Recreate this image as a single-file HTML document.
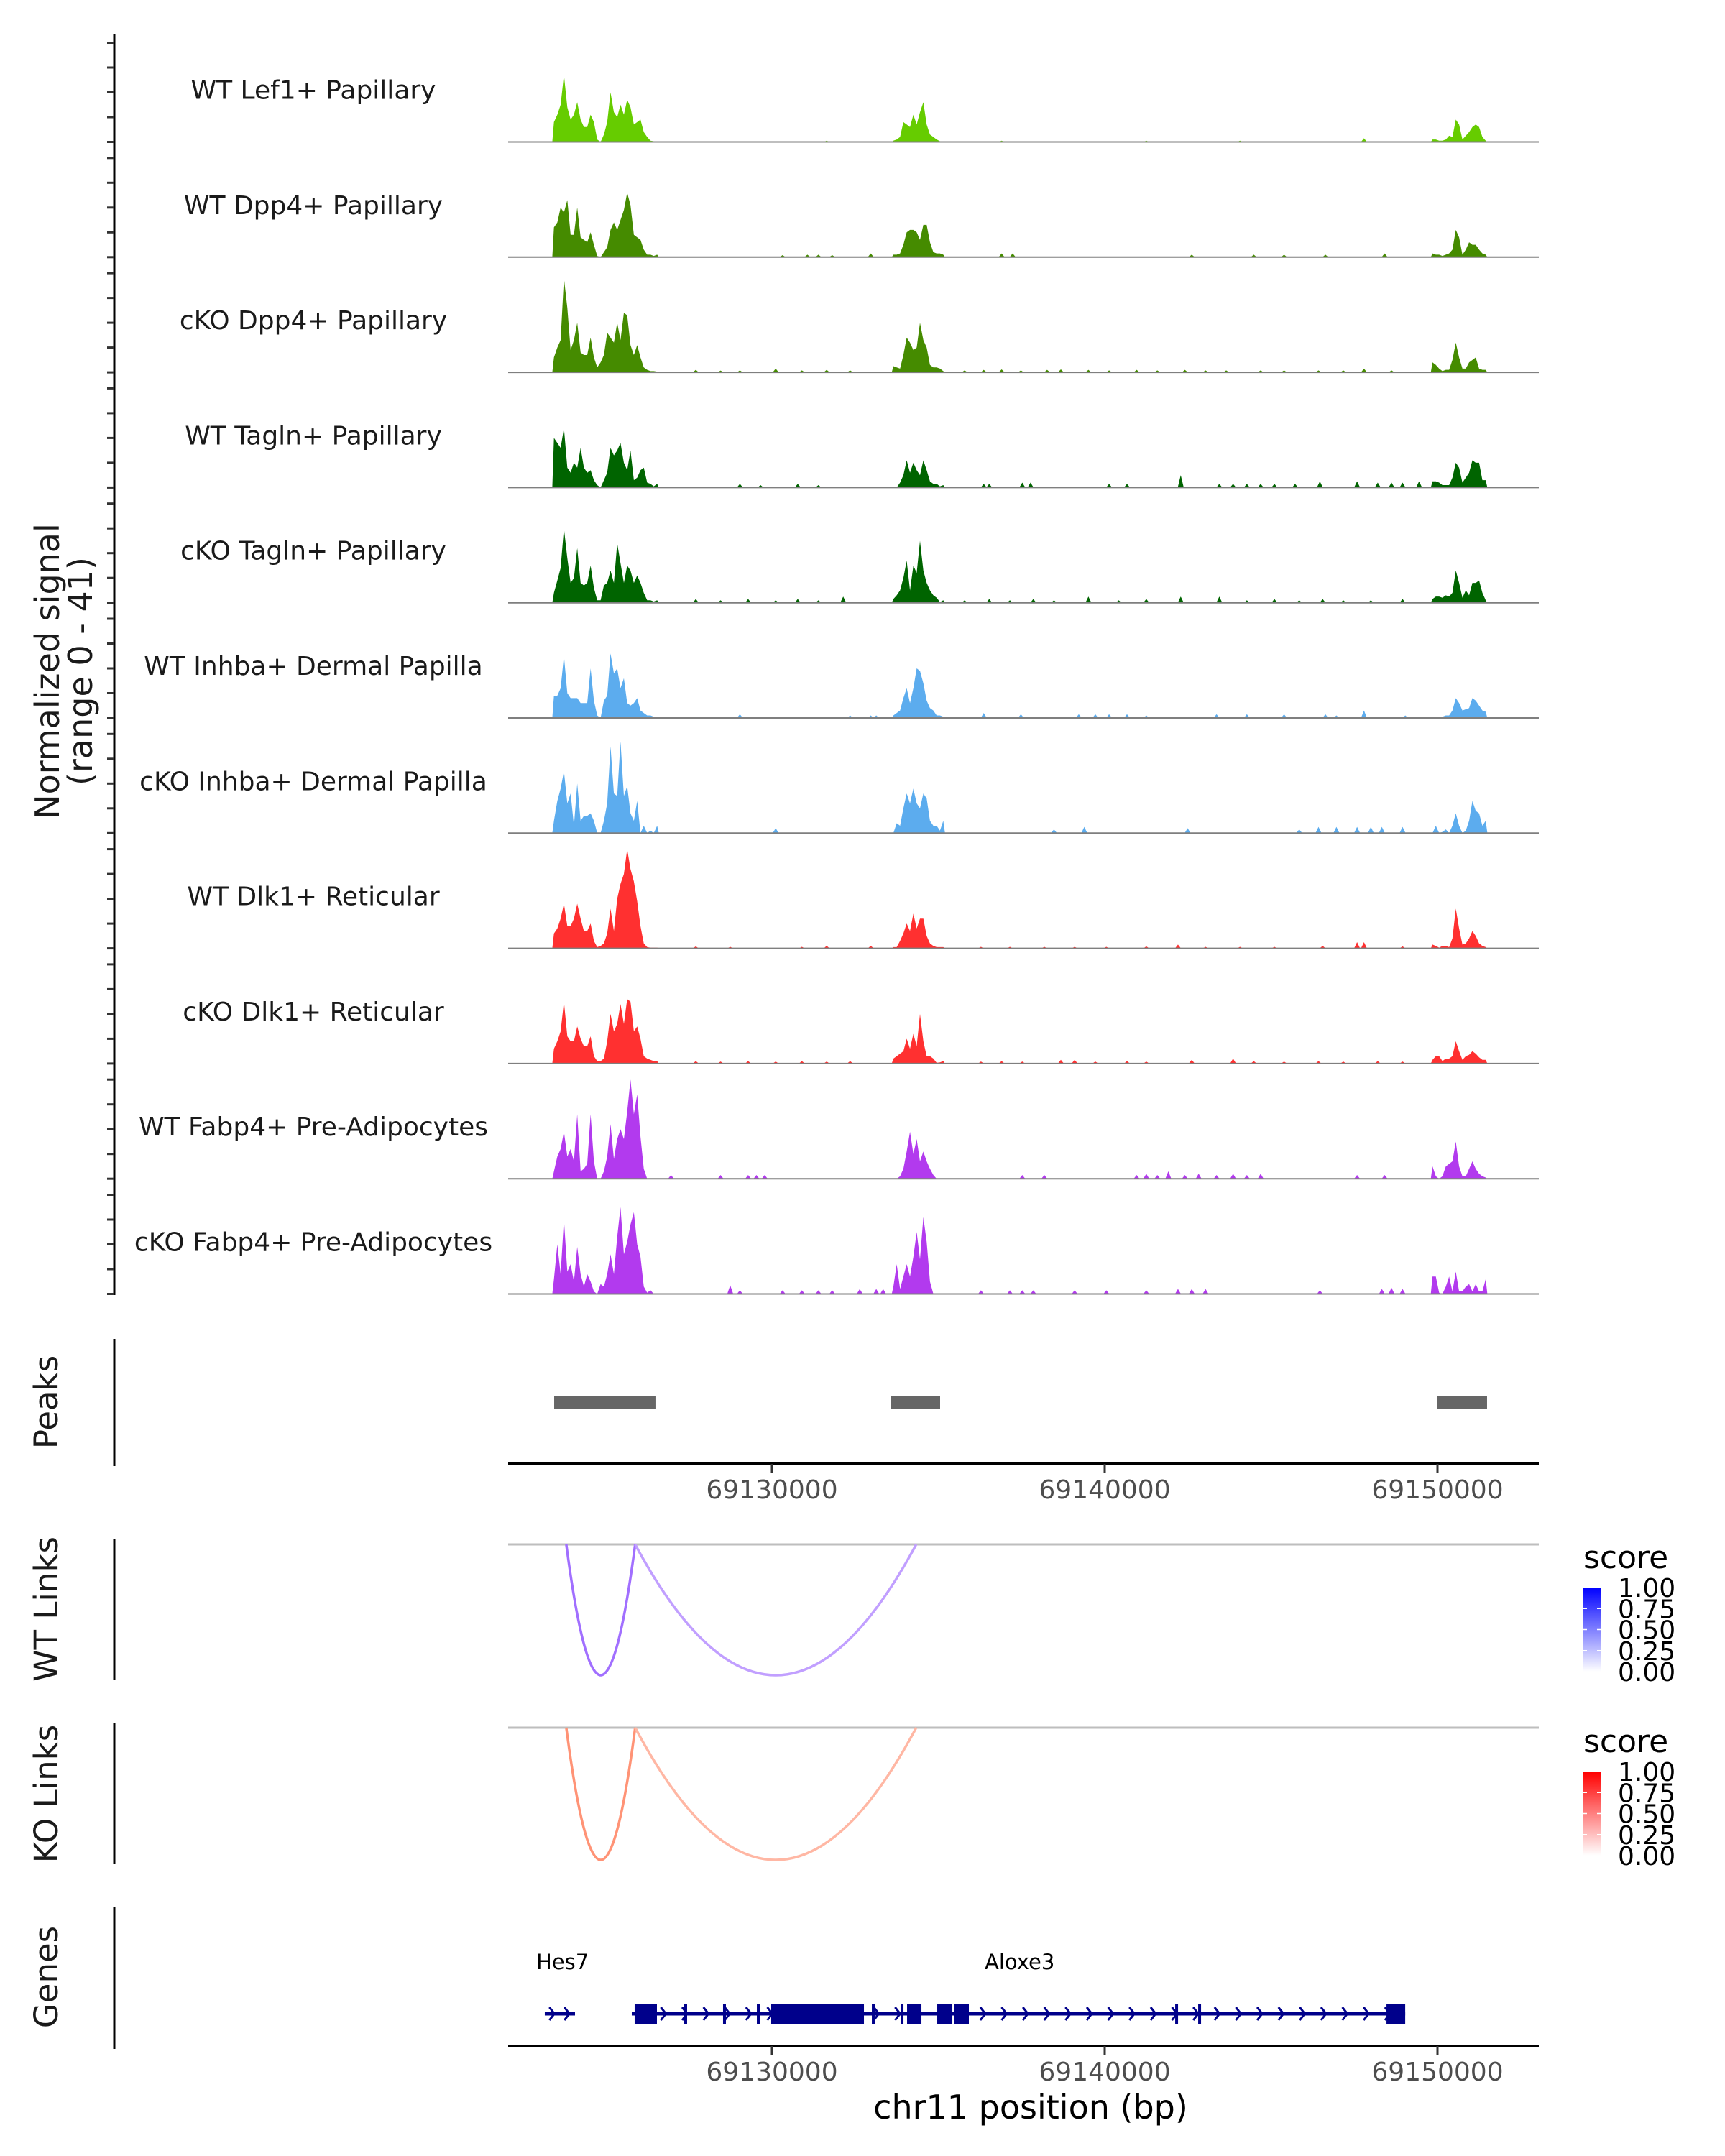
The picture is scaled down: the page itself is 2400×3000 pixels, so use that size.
<!DOCTYPE html>
<html><head><meta charset="utf-8"><style>
html,body{margin:0;padding:0;background:#fff;}
svg{display:block;font-family:"DejaVu Sans","Liberation Sans",sans-serif;}
</style></head><body>
<svg id="fig" xmlns="http://www.w3.org/2000/svg" width="2400" height="3000" viewBox="0 0 2400 3000">
<rect width="2400" height="3000" fill="#fff"/>
<text transform="translate(82,934) rotate(-90)" text-anchor="middle" font-size="46" fill="#1a1a1a">Normalized signal</text>
<text transform="translate(128,934) rotate(-90)" text-anchor="middle" font-size="46" fill="#1a1a1a">(range 0 - 41)</text>
<text transform="translate(80,1951) rotate(-90)" text-anchor="middle" font-size="45" fill="#1a1a1a">Peaks</text>
<text transform="translate(80,2239) rotate(-90)" text-anchor="middle" font-size="45" fill="#1a1a1a">WT Links</text>
<text transform="translate(80,2496) rotate(-90)" text-anchor="middle" font-size="45" fill="#1a1a1a">KO Links</text>
<text transform="translate(80,2751) rotate(-90)" text-anchor="middle" font-size="45" fill="#1a1a1a">Genes</text>
<text x="1434" y="2948" text-anchor="middle" font-size="46" fill="#000">chr11 position (bp)</text>
<defs>
<linearGradient id="gBlue" x1="0" y1="1" x2="0" y2="0"><stop offset="0" stop-color="#ffffff"/><stop offset="1" stop-color="#0000ff"/></linearGradient>
<linearGradient id="gRed" x1="0" y1="1" x2="0" y2="0"><stop offset="0" stop-color="#ffffff"/><stop offset="1" stop-color="#ff0000"/></linearGradient>
</defs>
<g id="tracks"></g><g id="lower"></g>
</svg>
<script>
const trackNames = ["WT Lef1+ Papillary","WT Dpp4+ Papillary","cKO Dpp4+ Papillary","WT Tagln+ Papillary","cKO Tagln+ Papillary","WT Inhba+ Dermal Papilla","cKO Inhba+ Dermal Papilla","WT Dlk1+ Reticular","cKO Dlk1+ Reticular","WT Fabp4+ Pre-Adipocytes","cKO Fabp4+ Pre-Adipocytes"];
const trackColors = ["#66cc00","#458b00","#458b00","#006400","#006400","#5cacee","#5cacee","#ff3030","#ff3030","#b23aee","#b23aee"];
const binSize = 100;
const leftStart = 69123400, midStart = 69133600, rightStart = 69149800;
const leftSignal = [
[8,11,15,27,14,9,11,16,9,6,6,11,8,1,0,3,8,20,12,10,15,11,17,14,7,8,9,4,2,0.5,0.3,0.3],
[12,14,20,18,23,9,9,20,8,7,6,10,5,0.5,0,2,4,11,14,11,15,19,26,21,9,8,7,3,1,1,0.5,1],
[6,10,13,38,26,9,13,20,8,7,7,14,6,2,4,7,16,14,12,20,13,24,23,11,7,11,6,2,1,0.5,0.5,0.3],
[20,18,16,24,8,6,10,8,16,8,6,7,3,1,0,3,6,16,13,15,18,10,7,15,3,4,7,8,2,1.5,0.5,1.5],
[4,9,14,30,18,8,10,22,8,7,8,15,6,1,1,7,8,13,8,24,16,8,15,13,8,11,8,4,1,1,0.5,1],
[9,9,12,25,10,8,8,8,6,6,6,20,7,1,0,7,9,26,18,20,12,16,6,5,6,8,3,2,1,1,0.5,0.5],
[5,13,18,25,12,16,3,20,5,7,7,8,5,0,0,5,12,35,16,15,37,15,19,8,5,13,0,3,0,1,0,3],
[6,8,12,18,9,9,12,18,12,7,7,10,3,0.5,1,2,6,16,7,20,26,30,40,32,27,19,9,2,0.5,0.3,0.3,0.3],
[6,9,13,25,11,9,9,15,10,7,7,11,3,1,1,2,9,20,13,16,24,16,26,25,13,15,10,3,2,1.5,1,1],
[3,9,12,19,9,12,7,26,3,4,6,26,7,0,0,3,9,22,8,16,20,16,27,40,26,34,17,4,0,0,0,0],
[6,20,8,30,9,12,5,19,8,3,8,5,1,0,4,3,8,16,8,23,35,16,21,28,33,20,15,3,0.5,1.5,0,0]
];
const midSignal = [
[0.5,1,2,8,7,6,11,7,12,16,7,3,2,1,0.3,0.3],
[1,1,1.5,5,10,11,11,10,7,13,13,6,2,1.5,1.5,1],
[2.5,2,1.5,7,14,12,9,10,20,13,10,3,2,2,1.5,0.5],
[0,0,2,5,11,6,10,7,5,11,7,2.5,1.5,1.5,0.5,1],
[1.5,3,5,10,17,5,15,12,25,13,8,5,3,2,0.3,1],
[1,2,3,8,12,6,12,20,19,14,7,4,3,1,1,0.5],
[0,4,3,10,16,12,18,12,10,16,14,5,3,3,1,5],
[0.5,0.5,3,6,10,7,14,8,12,12,5,2,1,0.5,0.5,0.5],
[2,3,4,5,10,6,12,7,20,9,3,3,2,0.3,0.5,1],
[0,0,1,4,11,19,10,16,7,11,7,4,1.5,0,0,0],
[3,12,2,7,12,7,15,25,14,31,21,5,0,0,0,0]
];
const rightSignal = [
[1,1,0.5,0.5,1,2.5,2,9,7,1,2.5,4,6,7,6,2,0.5],
[1.5,1,1,0.5,1,1.5,3,11,8,1,3,6,5,5,3,1.5,1],
[4,3,1.5,0.5,1,1,5,12,6,1.5,1.5,4,5,6,1.5,1,1],
[2.5,2.5,2,1,1,1,4,10,8,2,4,6,11,10,10,3,3],
[1.5,2.5,2.5,2,3,2.5,4,13,8,2,5,3,8,8,9,4,1],
[0,0,0,0.5,1,1,3,8,6,3,3.5,4,8,7,5,3,2.5],
[0,3,0,0.5,1.5,0,3,8,3,0,1,5,13,9,8,3,5],
[1.5,1,0.3,1,1,0.5,4,16,8,1.5,2,4,7,5,2,1,0.5],
[1.5,3,3,1,2,2,3,9,5,1.5,3,3.5,5,4,2.5,1.5,1.5],
[5,1,0,1,5,6,7,15,5,1,1,4,7,4,2,1,0.5],
[7,7,0.5,0,3,7,1,9,1,1,3,4,1,4,1,1,6]
];
const blips = [
[[69147791,1.5],[69141250,0.5],[69136903,0.5],[69131645,0.5],[69144065,0.5]],
[[69131066,1],[69131397,1],[69132970,1.5],[69136903,1.5],[69137234,1.5],[69142616,1],[69144479,1],[69145390,1],[69146632,1],[69148412,1.5],[69130320,0.8],[69131811,0.8]],
[[69127712,1],[69128457,0.7],[69129037,0.8],[69130113,1.5],[69130900,0.8],[69131645,1],[69132349,0.8],[69135790,0.8],[69136365,1],[69136903,1.2],[69137482,0.8],[69138269,1],[69138683,1.2],[69139511,1],[69140132,0.8],[69140960,1],[69141581,0.8],[69142409,1],[69143030,0.8],[69143651,0.8],[69144686,0.8],[69145390,0.8],[69146425,0.8],[69147170,0.8],[69147791,1.5],[69148619,0.8]],
[[69129037,1.5],[69129658,1],[69130776,1.5],[69131397,1],[69136365,1.5],[69136530,1.5],[69137524,2],[69137772,2],[69140132,1.5],[69140670,1.5],[69142285,5],[69143444,1.5],[69143858,1.5],[69144272,1.5],[69144686,1.5],[69145100,1.5],[69145721,1.5],[69146466,2.5],[69147584,2.5],[69148205,2],[69148619,2],[69148950,2],[69149447,2.5]],
[[69127712,1.5],[69128457,1],[69129285,1.5],[69130113,1],[69130776,1.5],[69131397,1],[69132142,2.5],[69135790,1],[69136530,1.5],[69137151,1],[69137855,1.5],[69138476,1],[69139511,2.5],[69140421,1],[69141250,1.5],[69142285,2.5],[69143444,2.5],[69144272,1],[69145100,1.5],[69145845,1],[69146549,1.5],[69147170,1],[69147998,1],[69148950,1.5]],
[[69129037,1.5],[69132349,1],[69132970,1],[69133135,1],[69136365,2],[69137482,1.5],[69139221,1.5],[69139718,1.5],[69140132,1.5],[69140670,1.5],[69141250,1],[69143361,1.5],[69144272,1.5],[69145390,1.5],[69146632,1.5],[69146963,1],[69147791,3],[69149033,1]],
[[69130113,2],[69138476,1.5],[69139387,2.5],[69142492,2],[69145845,1.5],[69146425,2.5],[69146963,2.5],[69147584,2.5],[69147998,2.5],[69148329,2.5],[69148950,2.5]],
[[69131645,1],[69132970,1],[69142202,1.5],[69146549,1],[69147584,2.5],[69147791,2.5],[69127712,0.8],[69128747,0.6],[69130900,0.6],[69136282,0.6],[69137151,0.6],[69138186,0.6],[69139097,0.6],[69140049,0.6],[69141250,0.8],[69143030,0.6],[69144065,0.6],[69145100,0.6],[69148950,0.8]],
[[69127712,1],[69128457,0.8],[69129285,1],[69130113,0.8],[69130900,1],[69131645,0.8],[69132349,1],[69136282,0.8],[69136903,1],[69137524,0.8],[69138683,1.5],[69139097,1.5],[69139718,0.8],[69140670,1],[69141250,0.8],[69142616,1.5],[69143858,2],[69144479,1],[69145390,0.8],[69146425,1],[69147170,0.8],[69148205,1],[69148950,0.8]],
[[69126967,1.5],[69128457,1.5],[69129285,1.5],[69129534,1.5],[69129782,1.5],[69137524,1.5],[69138186,1.5],[69140960,1.5],[69141250,2],[69141581,1.5],[69141912,3],[69142409,1.5],[69142823,2],[69143361,1.5],[69143858,2],[69144272,1.5],[69144686,2],[69147584,1.5],[69148412,1.5]],
[[69128747,3.5],[69129037,1.5],[69130320,1.5],[69130900,1.5],[69131397,1.5],[69131811,1.5],[69132639,2],[69133135,2],[69133342,2],[69136282,1.5],[69137151,1.5],[69137524,1.5],[69137855,1.5],[69139097,1.5],[69140049,1.5],[69141250,1.5],[69142202,2],[69142616,2],[69143030,2],[69146466,1.5],[69148329,2],[69148619,2.5],[69148950,2]]
];
const yTicks = [0,10,20,30,40];
const xTicks = [69130000,69140000,69150000];
const peakStarts = [69123456,69133585,69150000];
const peakEnds = [69126500,69135054,69151490];
const linkStarts = [69123820,69125890];
const linkEnds = [69125890,69134336];
const wtScores = [0.72,0.48];
const koScores = [0.72,0.48];
const legendTicks = [1.00,0.75,0.50,0.25,0.00];
const hes7 = [69123174,69124082];
const aloxe3 = [69125788,69149030];
const exonStarts = [69125874,69129978,69134061,69134968,69135486,69148468];
const exonEnds = [69126544,69132765,69134493,69135422,69135918,69149030];
const smallExons = [69127408,69128574,69129590,69133046,69133910,69142161,69142852];

const NS = "http://www.w3.org/2000/svg";
const X0 = 707, X1 = 2141;
function xScale(p){ return 1074 + (p - 69130000) * 0.0463; }
const yUnit = 3.45;
function baseY(k){ return 197.5 + 160.3 * k; }
function mk(tag, attrs, parent){ const e = document.createElementNS(NS, tag); for (const k in attrs) e.setAttribute(k, attrs[k]); parent.appendChild(e); return e; }
const T = document.getElementById('tracks');
const L = document.getElementById('lower');

let ax = mk('line', {x1:159,y1:48,x2:159,y2:1802,stroke:'#000','stroke-width':3}, T);



function regionPath(start, vals, b){
  let d = 'M' + xScale(start).toFixed(1) + ',' + b;
  vals.forEach((v, i) => {
    d += ' L' + xScale(start + binSize * i + binSize/2).toFixed(1) + ',' + (b - v * yUnit).toFixed(1);
  });
  d += ' L' + xScale(start + binSize * vals.length).toFixed(1) + ',' + b + ' Z';
  return d;
}

trackNames.forEach((name, k) => {
  const b = baseY(k);
  const g = mk('g', {}, T);
  
  
  yTicks.forEach(t => {
    const tk = mk('line', {x1:149,x2:159,y1:b - t*yUnit,y2:b - t*yUnit,stroke:'#333','stroke-width':3}, g);
    
    
  });
  const lab = mk('text', {x:436,y:b-60,'text-anchor':'middle','font-size':36,fill:'#1a1a1a'}, g);
  lab.textContent = name;
  
  
  [[leftStart, leftSignal[k]], [midStart, midSignal[k]], [rightStart, rightSignal[k]]].forEach(([s, v]) => {
    const p = mk('path', {d:regionPath(s, v, b), fill:trackColors[k]}, g);
    
    
  });
  blips[k].forEach(([pos, v]) => {
    const p = mk('path', {d:'M'+xScale(pos-90)+','+b+' L'+xScale(pos)+','+(b-v*yUnit)+' L'+xScale(pos+90)+','+b+' Z', fill:trackColors[k]}, g);
    
    
  });
  const bl = mk('line', {x1:X0,x2:X1,y1:b,y2:b,stroke:'#7f7f7f','stroke-width':2}, g);
  
  
});

[[1863,2040],[2141,2337],[2398,2594],[2653,2851]].forEach(([a,c]) => {
  const l = mk('line', {x1:159,x2:159,y1:a,y2:c,stroke:'#000','stroke-width':3}, L);
  
  
});

peakStarts.forEach((s, i) => {
  const r = mk('rect', {x:xScale(s), y:1942, width:xScale(peakEnds[i]) - xScale(s), height:18, fill:'#666666'}, L);
  
  
});

function xAxis(y, name){
  const l = mk('line', {x1:X0,x2:X1,y1:y,y2:y,stroke:'#000','stroke-width':4}, L);
  
  
  xTicks.forEach(t => {
    const tk = mk('line', {x1:xScale(t),x2:xScale(t),y1:y,y2:y+12,stroke:'#333','stroke-width':3}, L);
    
    
    const tx = mk('text', {x:xScale(t), y:y+48, 'text-anchor':'middle','font-size':36, fill:'#4d4d4d'}, L);
    tx.textContent = String(t);
    
    
  });
}
xAxis(2037, 'peaks-x-axis');
xAxis(2847, 'genes-x-axis');

function links(base, bottom, scores, hue, name){
  const gl = mk('line', {x1:X0,x2:X1,y1:base,y2:base,stroke:'#bebebe','stroke-width':3}, L);
  
  
  linkStarts.forEach((s, i) => {
    const a = xScale(s), c = xScale(linkEnds[i]);
    const depth = (bottom - base) * 2;
    const sc = scores[i];
    const col = hue === 'blue' ? 'rgb(' + Math.round(255 - 130*sc) + ',' + Math.round(255 - 200*sc) + ',255)' : 'rgb(255,' + Math.round(255 - 150*sc) + ',' + Math.round(255 - 190*sc) + ')';
    const p = mk('path', {d:'M'+a+','+base+' Q'+((a+c)/2)+','+(base+depth)+' '+c+','+base, fill:'none', stroke:col, 'stroke-width':3.5}, L);
    
    
  });
}
links(2149, 2331, wtScores, 'blue', 'wt-links');
links(2404, 2588, koScores, 'red', 'ko-links');

function legend(titleY, top, bot, grad, name){
  const t = mk('text', {x:2203, y:titleY, 'font-size':44, fill:'#000'}, L);
  t.textContent = 'score';
  
  
  const r = mk('rect', {x:2203, y:top, width:24, height:bot-top, fill:'url(#' + grad + ')'}, L);
  
  
  legendTicks.forEach(v => {
    const y = bot - v * (bot - top);
    const w1 = mk('line', {x1:2203,x2:2208,y1:y,y2:y,stroke:'#fff','stroke-width':1.5}, L);
    
    
    const w2 = mk('line', {x1:2222,x2:2227,y1:y,y2:y,stroke:'#fff','stroke-width':1.5}, L);
    
    
    const tx = mk('text', {x:2251, y:y+13, 'font-size':36, fill:'#000'}, L);
    tx.textContent = v.toFixed(2);
    
    
  });
}
legend(2182, 2209, 2326, 'gBlue', 'wt-legend');
legend(2438, 2465, 2582, 'gRed', 'ko-legend');

const GY = 2802, GC = '#00008b';
function chevrons(s, e, step){
  for (let p = s + step/2; p < e; p += step) {
    const x = xScale(p);
    const c = mk('polyline', {points:(x-4)+','+(GY-9)+' '+(x+3)+','+GY+' '+(x-4)+','+(GY+9), fill:'none', stroke:GC, 'stroke-width':3}, L);
    
    
  }
}
let hl = mk('line', {x1:xScale(hes7[0]),x2:xScale(hes7[1]),y1:GY,y2:GY,stroke:GC,'stroke-width':5}, L);


chevrons(hes7[0], hes7[1], 450);
let al = mk('line', {x1:xScale(aloxe3[0]),x2:xScale(aloxe3[1]),y1:GY,y2:GY,stroke:GC,'stroke-width':5}, L);


chevrons(aloxe3[0], aloxe3[1], 640);
exonStarts.forEach((s, i) => {
  const r = mk('rect', {x:xScale(s), y:GY-14, width:Math.max(3, xScale(exonEnds[i]) - xScale(s)), height:28, fill:GC}, L);
  
  
});
smallExons.forEach(s => {
  const r = mk('rect', {x:xScale(s)-2, y:GY-14, width:4, height:28, fill:GC}, L);
  
  
});
let h7 = mk('text', {x:746, y:2740, 'font-size':29, fill:'#000'}, L);
h7.textContent = 'Hes7';


let a3 = mk('text', {x:1370, y:2740, 'font-size':29, fill:'#000'}, L);
a3.textContent = 'Aloxe3';


</script>
</body></html>
